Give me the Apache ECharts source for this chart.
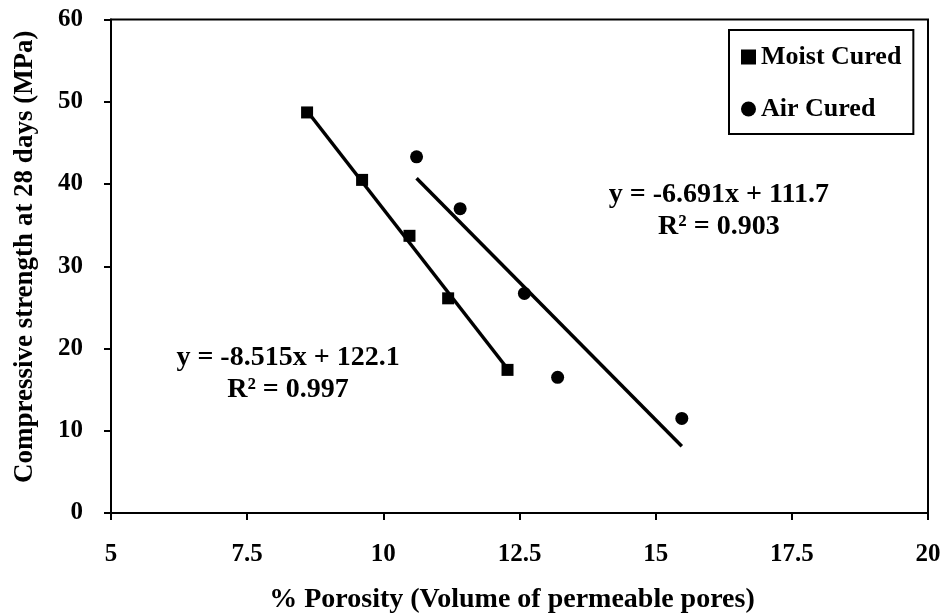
<!DOCTYPE html>
<html>
<head>
<meta charset="utf-8">
<script src="https://cdn.jsdelivr.net/npm/echarts@6/dist/echarts.min.js"></script>
<style>
  html, body { margin: 0; padding: 0; background: #fff; }
  #chart { width: 943px; height: 613px; }
</style>
</head>
<body>
<div id="chart"></div>
<script>
// Porosity (%) and 28-day compressive strength (MPa) for each curing regime
const moistPorosity = [8.6, 9.61, 10.48, 11.19, 12.28];
const moistStrength = [48.7, 40.5, 33.7, 26.1, 17.4];
const airPorosity = [10.61, 11.41, 12.59, 13.2, 15.48];
const airStrength = [43.3, 37.0, 26.7, 16.5, 11.5];

// Linear fits: [slope, intercept, R²]
const moistFit = [-8.515, 122.1, 0.997];
const airFit = [-6.691, 111.7, 0.903];

const seriesNames = ['Moist Cured', 'Air Cured'];
const xTickLabels = ['5', '7.5', '10', '12.5', '15', '17.5', '20'];
const yTickLabels = ['0', '10', '20', '30', '40', '50', '60'];
const xAxisTitle = '% Porosity (Volume of permeable pores)';
const yAxisTitle = 'Compressive strength at 28 days (MPa)';

const FONT = '"Liberation Serif", "Times New Roman", serif';

function pairs(xs, ys) {
  return xs.map((x, i) => [x, ys[i]]);
}
// Fitted line across the measured porosity range
function fitLine(fit, xs) {
  const lo = Math.min(...xs), hi = Math.max(...xs);
  return [[lo, fit[0] * lo + fit[1]], [hi, fit[0] * hi + fit[1]]];
}
function fitText(fit) {
  return 'y = ' + fit[0].toFixed(3) + 'x + ' + fit[1].toFixed(1) + '\nR\u00b2 = ' + fit[2].toFixed(3);
}

const chart = echarts.init(document.getElementById('chart'));

const option = {
  backgroundColor: '#fff',
  animation: false,
  grid: {
    left: 111, right: 15, top: 19.5, bottom: 100,
    show: true, borderColor: '#000', borderWidth: 2,
    containLabel: false,
    outerBoundsMode: 'none'
  },
  legend: {
    orient: 'vertical',
    left: 729, top: 30,
    padding: [14, 12, 12, 12],
    itemGap: 26,
    itemWidth: 15, itemHeight: 15,
    borderColor: '#000', borderWidth: 2, borderRadius: 0,
    backgroundColor: '#fff',
    data: [
      { name: seriesNames[0], icon: 'rect' },
      { name: seriesNames[1], icon: 'circle' }
    ],
    textStyle: { fontFamily: FONT, fontWeight: 'bold', fontSize: 26, color: '#000', lineHeight: 26, padding: [0, 0, 0, 0] }
  },
  xAxis: {
    type: 'value', min: 5, max: 20, interval: 2.5,
    name: xAxisTitle, nameLocation: 'middle', nameGap: 73,
    nameTextStyle: { fontFamily: FONT, fontWeight: 'bold', fontSize: 28, color: '#000', padding: [0, 15, 0, 0] },
    axisLine: { show: true, onZero: false, lineStyle: { color: '#000', width: 2 } },
    axisTick: { show: true, inside: false, length: 7, lineStyle: { color: '#000', width: 2 } },
    axisLabel: {
      margin: 29, fontFamily: FONT, fontWeight: 'bold', fontSize: 25, color: '#000',
      showMinLabel: true, showMaxLabel: true,
      formatter: v => xTickLabels[Math.round((v - 5) / 2.5)]
    },
    splitLine: { show: false }
  },
  yAxis: {
    type: 'value', min: 0, max: 60, interval: 10,
    name: yAxisTitle, nameLocation: 'middle', nameGap: 72, nameRotate: 90,
    nameTextStyle: { fontFamily: FONT, fontWeight: 'bold', fontSize: 27, color: '#000', padding: [0, 0, 0, 19] },
    axisLine: { show: true, onZero: false, lineStyle: { color: '#000', width: 2 } },
    axisTick: { show: true, inside: false, length: 7, lineStyle: { color: '#000', width: 2 } },
    axisLabel: {
      margin: 28, fontFamily: FONT, fontWeight: 'bold', fontSize: 25, color: '#000',
      formatter: v => yTickLabels[Math.round(v / 10)]
    },
    splitLine: { show: false }
  },
  series: [
    {
      name: seriesNames[0], type: 'scatter', symbol: 'rect', symbolSize: 12,
      itemStyle: { color: '#000', opacity: 1 }, z: 4,
      data: pairs(moistPorosity, moistStrength)
    },
    {
      name: seriesNames[1], type: 'scatter', symbol: 'circle', symbolSize: 13,
      itemStyle: { color: '#000', opacity: 1 }, z: 4,
      data: pairs(airPorosity, airStrength)
    },
    {
      name: 'Moist Cured fit', type: 'line', showSymbol: false, symbol: 'none',
      lineStyle: { color: '#000', width: 3.5 }, z: 3, silent: true,
      data: fitLine(moistFit, moistPorosity)
    },
    {
      name: 'Air Cured fit', type: 'line', showSymbol: false, symbol: 'none',
      lineStyle: { color: '#000', width: 3.5 }, z: 3, silent: true,
      data: fitLine(airFit, airPorosity)
    }
  ]
};

chart.setOption(option);

// Fit equations, anchored in data coordinates
const moistAnchor = chart.convertToPixel({ gridIndex: 0 }, [8.25, 16.9]);
const airAnchor = chart.convertToPixel({ gridIndex: 0 }, [16.16, 36.7]);
const eqStyle = {
  font: 'bold 28px ' + FONT, fill: '#000',
  align: 'center', verticalAlign: 'middle', lineHeight: 32
};
chart.setOption({
  graphic: [
    { type: 'text', x: moistAnchor[0], y: moistAnchor[1], z: 10,
      style: Object.assign({ text: fitText(moistFit) }, eqStyle) },
    { type: 'text', x: airAnchor[0], y: airAnchor[1], z: 10,
      style: Object.assign({ text: fitText(airFit) }, eqStyle) }
  ]
});
</script>
</body>
</html>
